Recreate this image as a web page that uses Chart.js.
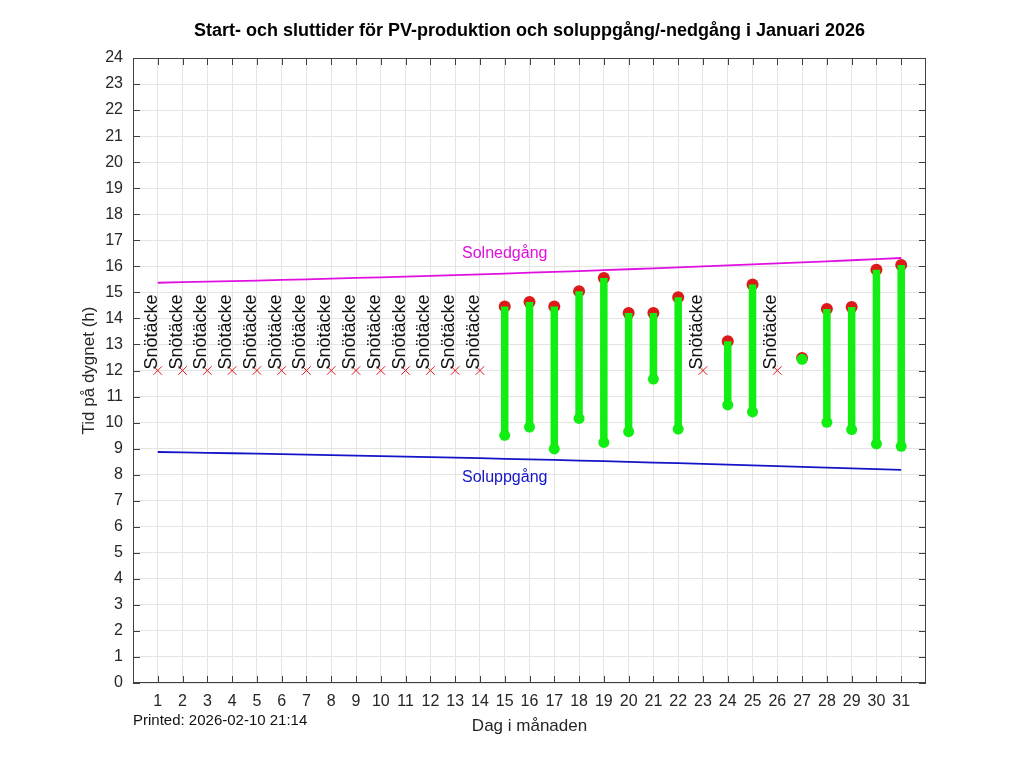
<!DOCTYPE html>
<html>
<head>
<meta charset="utf-8">
<script src="https://cdn.jsdelivr.net/npm/chart.js@4.4.1/dist/chart.umd.min.js"></script>
<style>
  html, body { margin: 0; padding: 0; background: #fff; }
  #wrap { width: 1024px; height: 768px; }
</style>
</head>
<body>
<div id="wrap"><canvas id="pv" width="1024" height="768"></canvas></div>
<script>
  // Januari 2026 - dagar, soltider och PV-start/-slut (timmar)
  var xTicks = [1, 2, 3, 4, 5, 6, 7, 8, 9, 10, 11, 12, 13, 14, 15, 16, 17, 18, 19, 20, 21, 22, 23, 24, 25, 26, 27, 28, 29, 30, 31];
  var yTicks = [0, 1, 2, 3, 4, 5, 6, 7, 8, 9, 10, 11, 12, 13, 14, 15, 16, 17, 18, 19, 20, 21, 22, 23, 24];
  var sunDays = [1, 2, 3, 4, 5, 6, 7, 8, 9, 10, 11, 12, 13, 14, 15, 16, 17, 18, 19, 20, 21, 22, 23, 24, 25, 26, 27, 28, 29, 30, 31];
  var sunset = [15.370, 15.390, 15.411, 15.432, 15.455, 15.478, 15.502, 15.527, 15.553, 15.579, 15.606, 15.634, 15.663, 15.693, 15.723, 15.755,
    15.787, 15.819, 15.853, 15.888, 15.923, 15.959, 15.996, 16.034, 16.072, 16.111, 16.152, 16.192, 16.234, 16.277, 16.320];
  var sunrise = [8.870, 8.855, 8.839, 8.823, 8.807, 8.790, 8.772, 8.754, 8.735, 8.715, 8.695, 8.675, 8.654, 8.632, 8.610, 8.588,
    8.565, 8.541, 8.517, 8.492, 8.466, 8.440, 8.414, 8.387, 8.359, 8.331, 8.303, 8.273, 8.243, 8.213, 8.183];
  var pvDays = [15, 16, 17, 18, 19, 20, 21, 22, 24, 25, 27, 28, 29, 30, 31];
  var pvStart = [9.51, 9.83, 8.99, 10.16, 9.24, 9.65, 11.67, 9.75, 10.68, 10.41, 12.43, 10.01, 9.73, 9.18, 9.09];
  var pvEnd = [14.46, 14.63, 14.46, 15.04, 15.55, 14.21, 14.21, 14.81, 13.12, 15.30, 12.48, 14.36, 14.44, 15.87, 16.05];
  var snowDays = [1, 2, 3, 4, 5, 6, 7, 8, 9, 10, 11, 12, 13, 14, 23, 26];
  var snowLevel = 12;
  var snowText = "Snötäcke";
  var sunsetLabel = { x: 15, y: 16.5, text: "Solnedgång" };
  var sunriseLabel = { x: 15, y: 7.88, text: "Soluppgång" };

  var FONT = '"Liberation Sans", Arial, Helvetica, sans-serif';
  var AXIS = "#404040";
  var MAGENTA = "#e010e0";
  var BLUE = "#1414c8";
  var GREEN = "#11ee11";
  var RED = "#dd1a1a";

  function pts(xs, ys) {
    return xs.map(function (x, i) { return { x: x, y: ys[i] }; });
  }
  function pvSegments() {
    var out = [];
    pvDays.forEach(function (day, i) {
      out.push({ x: day, y: pvStart[i] }, { x: day, y: pvEnd[i] }, { x: day, y: null });
    });
    return out;
  }

  var decor = {
    id: "decor",
    afterDraw: function (chart) {
      var ctx = chart.ctx, a = chart.chartArea, sx = chart.scales.x, sy = chart.scales.y;
      ctx.save();
      // box och inåtriktade ticks
      ctx.strokeStyle = AXIS;
      ctx.lineWidth = 1;
      ctx.strokeRect(a.left + 0.5, a.top + 0.5, a.right - a.left - 1, a.bottom - a.top - 1);
      ctx.beginPath();
      xTicks.forEach(function (v) {
        var px = Math.round(sx.getPixelForValue(v)) + 0.5;
        ctx.moveTo(px, a.bottom); ctx.lineTo(px, a.bottom - 7);
        ctx.moveTo(px, a.top); ctx.lineTo(px, a.top + 7);
      });
      yTicks.forEach(function (v) {
        var py = Math.round(sy.getPixelForValue(v)) + 0.5;
        ctx.moveTo(a.left, py); ctx.lineTo(a.left + 7, py);
        ctx.moveTo(a.right, py); ctx.lineTo(a.right - 7, py);
      });
      ctx.stroke();

      // snötäcke-texter
      ctx.fillStyle = "#111";
      ctx.font = "18px " + FONT;
      ctx.textAlign = "left";
      ctx.textBaseline = "alphabetic";
      snowDays.forEach(function (day) {
        ctx.save();
        ctx.translate(sx.getPixelForValue(day) - 1, sy.getPixelForValue(snowLevel) - 1);
        ctx.rotate(-Math.PI / 2);
        ctx.fillText(snowText, 0, 0);
        ctx.restore();
      });

      // sol-etiketter
      ctx.font = "16px " + FONT;
      ctx.textAlign = "center";
      ctx.textBaseline = "middle";
      ctx.fillStyle = MAGENTA;
      ctx.fillText(sunsetLabel.text, sx.getPixelForValue(sunsetLabel.x), sy.getPixelForValue(sunsetLabel.y));
      ctx.fillStyle = BLUE;
      ctx.fillText(sunriseLabel.text, sx.getPixelForValue(sunriseLabel.x), sy.getPixelForValue(sunriseLabel.y));

      // titel och axeltexter
      var cx = (a.left + a.right) / 2;
      ctx.fillStyle = "#000";
      ctx.font = "bold 18px " + FONT;
      ctx.fillText("Start- och sluttider för PV-produktion och soluppgång/-nedgång i Januari 2026", cx, 31);
      ctx.font = "17px " + FONT;
      ctx.fillStyle = "#262626";
      ctx.fillText("Dag i månaden", cx, 726);
      ctx.save();
      ctx.translate(89, (a.top + a.bottom) / 2);
      ctx.rotate(-Math.PI / 2);
      ctx.fillText("Tid på dygnet (h)", 0, 0);
      ctx.restore();
      ctx.textAlign = "left";
      ctx.font = "15px " + FONT;
      ctx.fillStyle = "#111";
      ctx.fillText("Printed: 2026-02-10 21:14", a.left, 721);
      ctx.restore();
    }
  };

  new Chart(document.getElementById("pv"), {
    type: "scatter",
    data: {
      datasets: [
        { type: "line", label: "Solnedgång", data: pts(sunDays, sunset), borderColor: MAGENTA, borderWidth: 1.8, pointRadius: 0, order: 6 },
        { type: "line", label: "Soluppgång", data: pts(sunDays, sunrise), borderColor: BLUE, borderWidth: 1.8, pointRadius: 0, order: 6 },
        { label: "Snötäcke", data: snowDays.map(function (d) { return { x: d, y: snowLevel }; }), pointStyle: "crossRot",
          pointRadius: 6, borderColor: RED, borderWidth: 1, backgroundColor: RED, order: 5 },
        { label: "Slut", data: pts(pvDays, pvEnd), pointStyle: "circle", pointRadius: 6, backgroundColor: RED, borderColor: RED,
          borderWidth: 0, order: 3 },
        { type: "line", label: "PV", data: pvSegments(), borderColor: GREEN, borderWidth: 7.5, pointRadius: 0, spanGaps: false,
          borderCapStyle: "butt", order: 2 },
        { label: "Start", data: pts(pvDays, pvStart), pointStyle: "circle", pointRadius: 5.5, backgroundColor: GREEN, borderColor: GREEN,
          borderWidth: 0, order: 1 }
      ]
    },
    options: {
      responsive: false,
      animation: false,
      devicePixelRatio: 1,
      layout: { padding: { top: 58, right: 98, left: 0, bottom: 0 } },
      plugins: { legend: { display: false }, tooltip: { enabled: false }, title: { display: false } },
      scales: {
        x: {
          type: "linear", min: 0, max: 32,
          afterBuildTicks: function (scale) { scale.ticks = xTicks.map(function (v) { return { value: v }; }); },
          afterFit: function (scale) { scale.height = 85; },
          ticks: { color: "#262626", font: { family: FONT, size: 16 }, padding: 9, maxRotation: 0, autoSkip: false },
          grid: { color: "#e4e4e4", drawTicks: false },
          border: { display: false }
        },
        y: {
          type: "linear", min: 0, max: 24,
          afterBuildTicks: function (scale) { scale.ticks = yTicks.map(function (v) { return { value: v }; }); },
          afterFit: function (scale) { scale.width = 133; },
          ticks: { color: "#262626", font: { family: FONT, size: 16 }, padding: 10, autoSkip: false },
          grid: { color: "#e4e4e4", drawTicks: false },
          border: { display: false }
        }
      }
    },
    plugins: [decor]
  });
</script>
</body>
</html>
